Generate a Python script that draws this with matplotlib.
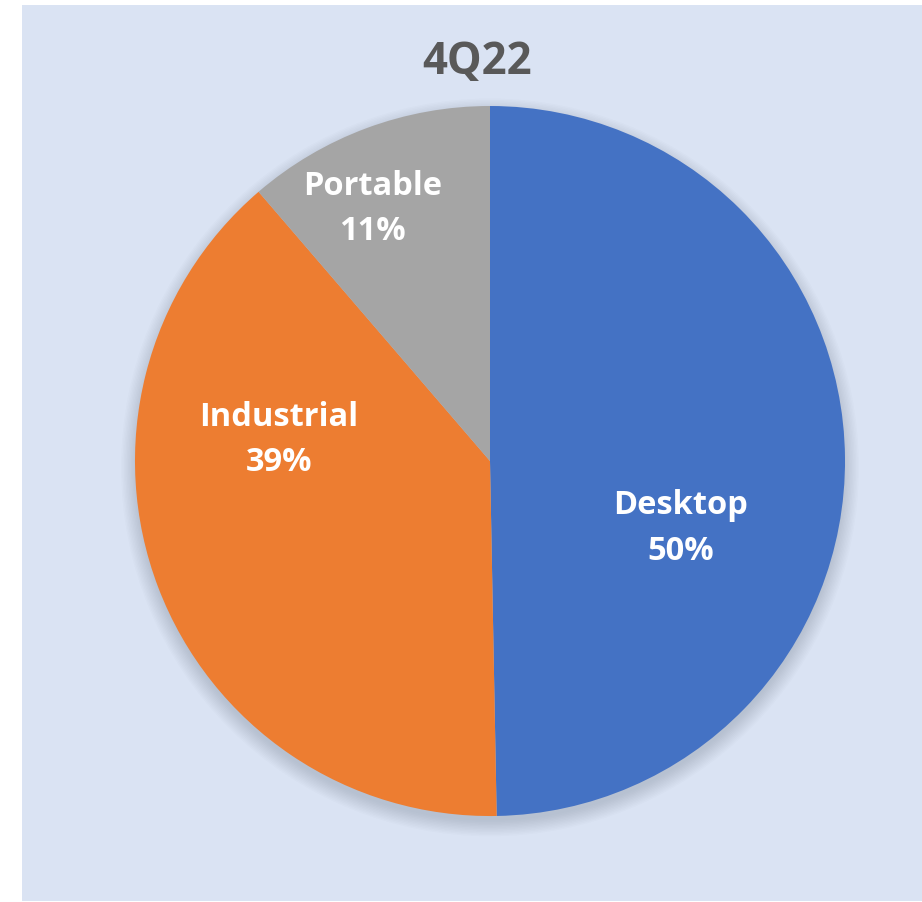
import matplotlib.pyplot as plt
import matplotlib as mpl
from matplotlib.patches import Rectangle, Circle

mpl.rcParams.update({
    "font.family": ["Open Sans", "DejaVu Sans"],
    "figure.facecolor": "white",
})

categories = ["Desktop", "Industrial", "Portable"]
shares = [49.7, 39.0, 11.3]
pct_labels = ["50%", "39%", "11%"]
title = "4Q22"

colors = ["#4472C4", "#ED7D31", "#A5A5A5"]
# label anchor points, in pie units (radius = 1)
label_xy = [(0.538, -0.187), (-0.594, 0.063), (-0.332, 0.713)]

fig = plt.figure(figsize=(9.22, 9.03), dpi=100)
fig.patches.append(Rectangle((0.0239, 0.0011), 0.9761, 0.9922,
                             transform=fig.transFigure, facecolor="#DAE3F3",
                             edgecolor="none", zorder=-5))

ax = fig.add_axes([0.1464, 0.0952, 0.7701, 0.7863])
ax.set_zorder(2)
ax.set_xlim(-1, 1)
ax.set_ylim(-1, 1)
ax.set_aspect("equal")
ax.axis("off")

# soft drop shadow under the pie
for i in range(12):
    ax.add_patch(Circle((0.0, -0.018), 0.995 + 0.004 * i, facecolor="#556070",
                        edgecolor="none", alpha=0.02, zorder=1, clip_on=False))

wedges, _ = ax.pie(shares, colors=colors, startangle=90, counterclock=False,
                   radius=1.0, wedgeprops=dict(linewidth=0))
for w in wedges:
    w.set_zorder(2)
ax.set_xlim(-1, 1)
ax.set_ylim(-1, 1)

for (x, y), name, pct in zip(label_xy, categories, pct_labels):
    ax.text(x, y, f"{name}\n{pct}", ha="center", va="center", color="white",
            fontsize=23.5, fontweight="bold", linespacing=1.49, zorder=3)

fig.text(0.517, 0.931, title, ha="center", va="center", color="#595959",
         fontsize=31.5, fontweight="bold", zorder=3)

fig.savefig("out.png", dpi=100, facecolor="white")
